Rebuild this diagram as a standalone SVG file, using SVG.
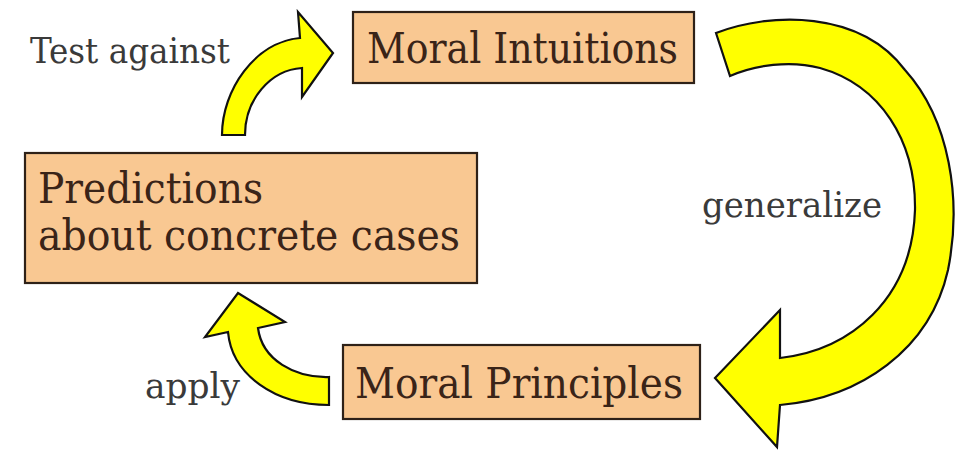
<svg xmlns="http://www.w3.org/2000/svg" width="956" height="451" viewBox="0 0 956 451">
<style>
.box{fill:#F9C892;stroke:#2e2118;stroke-width:2.2}
.bt{font-family:"DejaVu Serif Condensed","DejaVu Serif",serif;font-size:43px;fill:#3a2418}
.lb{font-family:"DejaVu Serif Condensed","DejaVu Serif",serif;font-size:36px;fill:#3a3a3a}
.arr{fill:#FFFF00;stroke:#111;stroke-width:2.2;stroke-linejoin:miter}
</style>
<rect width="956" height="451" fill="#fff"/>
<g id="intuitions">
<rect class="box" x="353" y="12" width="341" height="71"/>
<text class="bt" x="367" y="63" textLength="311" lengthAdjust="spacingAndGlyphs">Moral Intuitions</text>
</g>
<g id="predictions">
<rect class="box" x="25" y="153" width="452" height="130"/>
<text class="bt" x="38" y="203" textLength="225" lengthAdjust="spacingAndGlyphs">Predictions</text>
<text class="bt" x="38" y="250" textLength="422" lengthAdjust="spacingAndGlyphs">about concrete cases</text>
</g>
<g id="principles">
<rect class="box" x="343" y="345" width="357" height="74"/>
<text class="bt" x="355" y="398" textLength="328" lengthAdjust="spacingAndGlyphs">Moral Principles</text>
</g>
<g id="connectors">
<path class="arr" d="M716,33 C770,12 860,10 905,70 C950,120 962,200 948,270 C930,350 860,398 780,405 L777,447 L715,378 L780,310 L780,358 C850,350 912,300 915,210 C916,140 880,85 820,68 C790,60 755,65 730,76 Z"/>
<path class="arr" d="M222,135 C222,90 255,42 300,38 L298,12 L333,53 L302,97 L302,68 C270,70 245,100 245,135 Z"/>
<path class="arr" d="M329,405 L329,377 C295,378 262,360 258,328 L285,322 L238,293 L205,337 L228,332 C232,375 275,405 329,405 Z"/>
<text class="lb" x="30" y="63" textLength="200" lengthAdjust="spacingAndGlyphs">Test against</text>
<text class="lb" x="702" y="217" textLength="180" lengthAdjust="spacingAndGlyphs">generalize</text>
<text class="lb" x="145" y="398" textLength="95" lengthAdjust="spacingAndGlyphs">apply</text>
</g>
</svg>
